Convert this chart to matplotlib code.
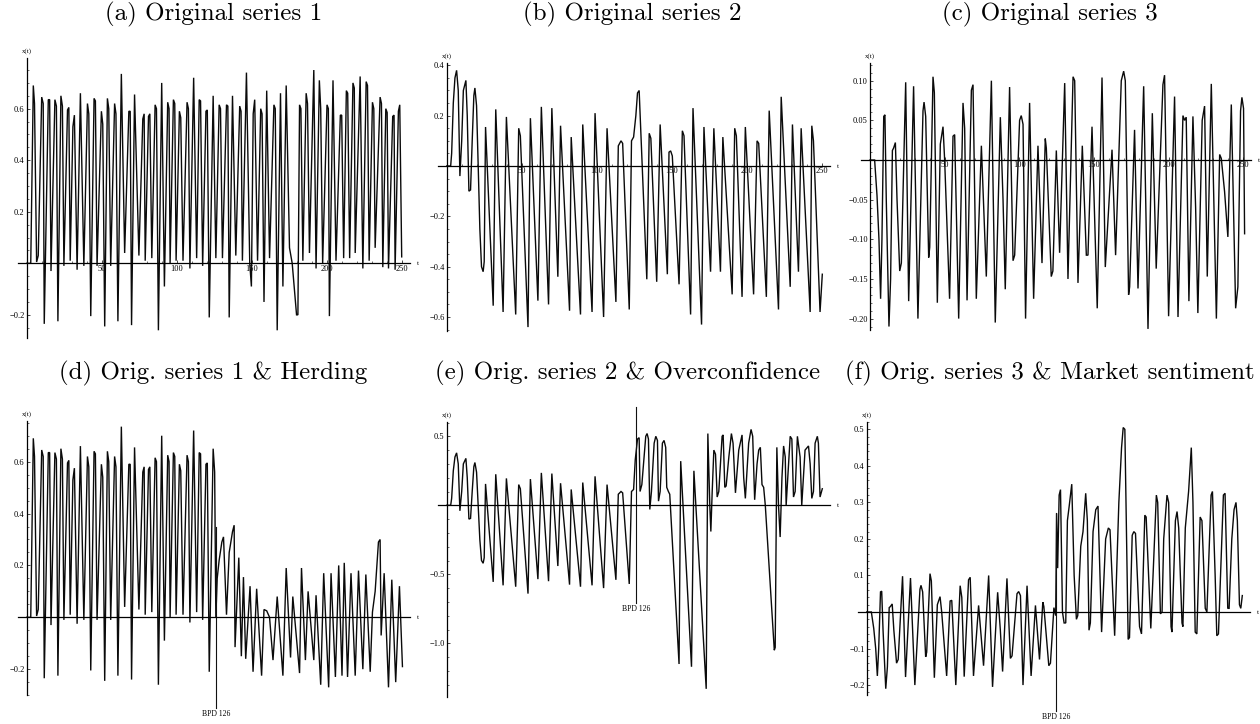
import matplotlib
matplotlib.use('Agg')
import matplotlib.pyplot as plt
from matplotlib.ticker import MultipleLocator, FixedLocator, NullLocator

# ---- data: turning points (t, x) ----
series1 = [(0, 0), (2.7, 0), (4.4, 0.69), (5.2, 0.62), (6.6, 0.005), (7.7, 0.03),
           (10.0, 0.645), (11.0, 0.62), (11.7, -0.235), (14.4, 0.635), (15.3, 0.635),
           (16.2, -0.03), (18.8, 0.635), (19.8, 0.61), (20.8, -0.225), (22.8, 0.65),
           (23.8, 0.61), (24.8, -0.01), (27.2, 0.595), (28.1, 0.605), (29.0, 0.01),
           (30.8, 0.53), (31.8, 0.575), (33.6, -0.025), (35.8, 0.66), (38.1, -0.01),
           (40.5, 0.62), (41.4, 0.58), (42.7, -0.205), (44.9, 0.64), (45.8, 0.63),
           (46.9, -0.01), (49.8, 0.59), (50.7, 0.54), (52.0, -0.245), (53.8, 0.64),
           (54.7, 0.6), (56.0, -0.01), (58.6, 0.62), (59.5, 0.58), (60.8, -0.225),
           (63.1, 0.735), (65.3, 0.04), (68.1, 0.59), (69.0, 0.59), (69.9, -0.24),
           (71.9, 0.655), (74.8, 0.03), (77.4, 0.56), (78.3, 0.58), (79.0, 0.01),
           (81.2, 0.57), (82.1, 0.58), (83.4, 0.02), (85.6, 0.615), (86.5, 0.6),
           (87.8, -0.26), (90.0, 0.70), (91.8, -0.09), (94.0, 0.625), (94.9, 0.6),
           (95.6, 0.0), (97.8, 0.635), (98.7, 0.62), (99.6, 0.01), (101.8, 0.59),
           (102.7, 0.565), (104.2, 0.01), (106.9, 0.625), (107.8, 0.6), (108.8, -0.02),
           (111.3, 0.72), (113.3, 0.02), (115.0, 0.635), (115.9, 0.63), (117.3, -0.01),
           (119.5, 0.59), (120.4, 0.595), (121.7, -0.21), (124.3, 0.65), (126.1, 0.02),
           (128.3, 0.615), (129.2, 0.6), (130.5, 0.02), (133.2, 0.615), (134.1, 0.61),
           (135.0, -0.21), (137.2, 0.65), (139.4, 0.03), (142.0, 0.61), (142.9, 0.59),
           (143.8, 0.01), (146.5, 0.74), (148.7, 0.0), (149.8, -0.09), (151.0, 0.58),
           (152.0, 0.635), (153.9, 0.01), (156.0, 0.6), (156.9, 0.58), (158.2, -0.15),
           (160.0, 0.67), (161.9, 0.02), (164.8, 0.615), (165.7, 0.6), (167.0, -0.26),
           (169.2, 0.66), (170.8, -0.09), (173.0, 0.69), (175.2, 0.06), (177.0, 0.0),
           (179.9, -0.2), (180.8, -0.2), (181.9, 0.615), (182.8, 0.6), (184.1, 0.01),
           (186.3, 0.66), (187.2, 0.62), (188.5, 0.04), (191.4, 0.75), (192.9, -0.02),
           (195.1, 0.71), (196.0, 0.6), (197.3, 0.0), (200.2, 0.615), (201.1, 0.6),
           (201.8, -0.205), (204.2, 0.71), (206.2, 0.01), (209.1, 0.575), (210.0, 0.575),
           (211.3, 0.02), (213.1, 0.67), (214.0, 0.66), (215.3, 0.02), (217.5, 0.70),
           (218.4, 0.68), (219.0, 0.04), (222.3, 0.725), (224.1, -0.02), (226.3, 0.705),
           (227.2, 0.69), (228.3, 0.01), (230.5, 0.625), (231.4, 0.6), (232.3, 0.06),
           (235.6, 0.645), (236.5, 0.62), (237.4, -0.015), (239.4, 0.60), (240.3, 0.585),
           (241.2, -0.02), (244.0, 0.57), (244.9, 0.575), (245.6, -0.025), (247.8, 0.59),
           (248.7, 0.615), (250.0, 0.025)]

series2 = [(0, 0), (2.65, 0), (3.3, 0.05), (4.4, 0.25), (5.5, 0.35), (6.6, 0.38),
           (7.7, 0.3), (8.8, -0.04), (10.0, 0.1), (11.1, 0.3), (12.8, 0.34), (13.7, 0.2),
           (14.8, -0.1), (15.9, -0.095), (17.0, 0.1), (18.1, 0.28), (18.8, 0.31),
           (19.9, 0.24), (21.0, 0.0), (22.1, -0.25), (23.2, -0.4), (24.3, -0.42),
           (25.0, -0.38), (25.9, 0.155), (31.0, -0.555), (32.7, 0.225), (37.6, -0.58),
           (39.8, 0.195), (46.0, -0.59), (48.0, 0.15), (49.1, 0.12), (54.2, -0.64),
           (55.8, 0.19), (60.8, -0.535), (63.1, 0.235), (67.9, -0.55), (70.1, 0.23),
           (74.1, -0.44), (75.9, 0.16), (81.9, -0.575), (83.0, 0.115), (89.2, -0.59),
           (90.7, 0.165), (96.9, -0.58), (98.9, 0.21), (104.6, -0.6), (106.9, 0.15),
           (112.8, -0.54), (114.4, 0.08), (116.2, 0.10), (117.3, 0.09), (121.7, -0.57),
           (123.2, 0.1), (124.6, 0.115), (126.1, 0.2), (127.2, 0.29), (128.3, 0.3),
           (133.4, -0.45), (135.0, 0.13), (136.1, 0.11), (140.0, -0.46), (142.3, 0.165),
           (147.1, -0.43), (148.2, 0.055), (149.3, 0.06), (150.4, 0.04), (154.9, -0.47),
           (157.1, 0.14), (158.2, 0.12), (162.6, -0.59), (164.2, 0.23), (169.9, -0.63),
           (171.5, 0.155), (175.9, -0.42), (178.1, 0.15), (182.5, -0.42), (184.1, 0.115),
           (190.3, -0.51), (192.0, 0.15), (193.1, 0.12), (196.9, -0.52), (199.1, 0.155),
           (204.6, -0.51), (206.9, 0.1), (208.0, 0.09), (213.1, -0.52), (215.0, 0.22),
           (221.2, -0.57), (223.0, 0.275), (229.0, -0.48), (230.5, 0.165), (234.5, -0.42),
           (236.3, 0.15), (242.3, -0.58), (243.4, 0.16), (244.5, 0.1), (248.9, -0.58),
           (250.4, -0.43)]

series3 = [(0, 0), (3.1, 0), (4.7, -0.045), (6.0, -0.1), (7.1, -0.175), (8.0, -0.1),
           (9.2, 0.055), (10.0, 0.057), (10.9, -0.05), (12.7, -0.21), (13.8, -0.15),
           (15.0, 0.012), (15.8, 0.015), (17.0, 0.022), (18.1, -0.05), (19.9, -0.14),
           (21.0, -0.13), (23.9, 0.098), (25.9, -0.178), (29.2, 0.093), (32.1, -0.2),
           (35.5, 0.062), (36.2, 0.073), (37.3, 0.055), (39.3, -0.123), (40.0, -0.11),
           (42.2, 0.105), (43.1, 0.085), (45.1, -0.18), (47.1, 0.02), (48.9, 0.042),
           (50.0, 0.0), (53.3, -0.175), (55.6, 0.03), (56.7, 0.032), (59.4, -0.2),
           (62.3, 0.072), (63.4, 0.04), (65.0, -0.177), (67.9, 0.088), (69.0, 0.095),
           (71.2, -0.175), (74.6, 0.018), (77.9, -0.147), (81.3, 0.1), (83.9, -0.205),
           (87.3, 0.054), (89.1, -0.05), (90.6, -0.163), (93.5, 0.092), (95.8, -0.127),
           (96.9, -0.12), (100.2, 0.05), (101.3, 0.056), (102.5, 0.045), (104.2, -0.2),
           (106.9, 0.072), (109.6, -0.175), (112.5, 0.018), (115.2, -0.13), (117.4, 0.027),
           (118.1, 0.015), (121.4, -0.147), (122.5, -0.14), (124.8, 0.012), (127.0, -0.117),
           (130.4, 0.097), (132.6, -0.15), (136.0, 0.105), (137.1, 0.1), (139.3, -0.155),
           (142.2, 0.018), (144.9, -0.12), (146.0, -0.12), (148.7, 0.042), (152.2, -0.187),
           (155.4, 0.104), (157.6, -0.135), (162.1, 0.013), (164.5, -0.12), (168.3, 0.1),
           (169.9, 0.112), (171.0, 0.1), (173.2, -0.17), (173.9, -0.16), (177.2, 0.038),
           (179.5, -0.162), (183.3, 0.093), (186.2, -0.213), (189.1, 0.059), (191.7, -0.137),
           (196.2, 0.095), (197.3, 0.107), (200.0, -0.197), (204.0, 0.08), (206.3, -0.198),
           (209.6, 0.056), (210.7, 0.05), (211.8, 0.054), (213.6, -0.178), (216.3, 0.055),
           (218.1, -0.06), (219.6, -0.193), (222.5, 0.05), (224.1, 0.068), (225.9, -0.147),
           (228.6, 0.096), (232.0, -0.2), (234.2, 0.007), (235.3, 0.002), (237.5, -0.04),
           (239.7, -0.097), (242.0, 0.07), (244.9, -0.187), (246.4, -0.16), (248.2, 0.062),
           (249.1, 0.079), (250.2, 0.065), (250.9, -0.093)]

# after the break point (t = 126)
herding_tail = [(125.3, 0.56), (126.1, 0.0), (127.0, 0.15), (128.3, 0.22), (130.1, 0.29),
                (131.2, 0.31), (133.2, 0.01), (135.0, 0.25), (137.2, 0.33), (138.3, 0.355),
                (138.9, -0.115), (141.4, 0.23), (143.1, -0.15), (144.5, 0.155), (146.0, -0.16),
                (148.9, 0.12), (150.9, -0.21), (153.3, 0.11), (156.6, -0.225), (158.2, 0.03),
                (160.0, 0.025), (161.9, 0.0), (164.2, -0.165), (167.0, 0.08), (170.8, -0.225),
                (173.0, 0.19), (175.9, -0.155), (177.4, 0.08), (181.9, -0.215), (183.2, 0.19),
                (185.8, -0.165), (187.6, 0.1), (191.4, -0.165), (192.9, 0.085), (196.0, -0.26),
                (198.0, 0.17), (201.3, -0.27), (202.9, 0.17), (205.8, -0.23), (208.0, 0.2),
                (210.2, -0.225), (211.7, 0.21), (213.9, -0.23), (216.2, 0.17), (219.0, -0.225),
                (221.2, 0.18), (224.1, -0.2), (226.1, 0.165), (229.0, -0.21), (230.5, 0.02),
                (232.3, 0.1), (234.5, 0.29), (235.6, 0.3), (236.3, -0.07), (238.3, 0.17),
                (241.2, -0.27), (243.4, 0.145), (246.0, -0.25), (248.5, 0.12), (250.5, -0.19)]

overconf_tail = [(125.7, 0.33), (127.2, 0.48), (128.3, 0.49), (128.9, 0.1), (130.1, 0.15),
                 (131.6, 0.35), (132.7, 0.5), (133.6, 0.52), (134.5, 0.48), (135.4, -0.03),
                 (136.5, 0.1), (138.3, 0.45), (139.4, 0.5), (140.5, 0.47), (141.2, 0.03),
                 (142.3, 0.1), (143.8, 0.45), (144.9, 0.47), (146.0, 0.42), (146.7, 0.13),
                 (147.8, 0.1), (148.7, 0.08), (154.9, -1.15), (156.0, 0.32), (163.2, -1.17),
                 (164.8, 0.25), (173.0, -1.33), (174.1, 0.52), (175.4, 0.0), (176.1, -0.19),
                 (177.0, 0.1), (178.1, 0.4), (179.2, 0.37), (180.3, 0.06), (181.4, 0.1),
                 (182.5, 0.3), (183.6, 0.5), (184.3, 0.51), (185.4, 0.13), (186.3, 0.14),
                 (188.1, 0.35), (189.8, 0.52), (190.9, 0.45), (192.5, 0.09), (194.7, 0.4),
                 (196.9, 0.51), (198.0, 0.2), (199.1, 0.05), (201.3, 0.45), (202.9, 0.55),
                 (204.0, 0.5), (205.3, 0.04), (206.9, 0.3), (208.0, 0.4), (209.1, 0.42),
                 (210.2, 0.15), (211.3, 0.13), (212.4, 0.0), (218.4, -1.05), (219.0, -1.03),
                 (220.1, 0.42), (221.2, 0.0), (222.3, -0.23), (223.5, 0.2), (224.6, 0.43),
                 (225.7, 0.35), (226.3, 0.0), (227.4, 0.2), (229.0, 0.5), (230.1, 0.48),
                 (231.2, 0.06), (232.3, 0.1), (233.8, 0.5), (235.6, 0.35), (236.7, 0.0),
                 (237.8, 0.2), (238.9, 0.4), (241.2, 0.43), (242.3, 0.3), (243.4, 0.05),
                 (244.5, 0.1), (245.6, 0.45), (247.1, 0.5), (247.8, 0.45), (248.9, 0.06),
                 (250.4, 0.12)]

sentiment_tail = [(126.0, -0.01), (126.6, 0.27), (127.3, 0.12), (128.3, 0.32), (129.2, 0.335),
                  (130.5, 0.0), (131.6, -0.03), (132.7, -0.03), (133.8, 0.25), (135.0, 0.29),
                  (136.7, 0.35), (138.3, 0.1), (139.8, -0.02), (140.7, -0.01), (142.7, 0.18),
                  (144.2, 0.22), (146.0, 0.325), (147.1, 0.25), (148.2, -0.05), (149.1, -0.03),
                  (150.9, 0.22), (152.7, 0.28), (154.2, 0.29), (156.6, -0.055), (159.3, 0.2),
                  (161.1, 0.23), (162.2, 0.225), (165.3, -0.065), (168.1, 0.3), (169.9, 0.45),
                  (171.0, 0.505), (172.1, 0.5), (174.3, -0.075), (175.2, -0.07), (177.0, 0.21),
                  (178.1, 0.22), (179.2, 0.215), (181.9, -0.04), (183.2, -0.06), (185.4, 0.265),
                  (186.3, 0.26), (189.4, -0.045), (190.9, 0.1), (193.1, 0.32), (194.0, 0.3),
                  (195.8, -0.005), (196.9, 0.0), (198.0, 0.2), (200.2, 0.32), (201.3, 0.3),
                  (202.9, -0.04), (203.5, -0.055), (205.8, 0.25), (206.9, 0.275), (208.0, 0.23),
                  (210.2, -0.03), (210.8, -0.04), (212.4, 0.23), (214.6, 0.33), (216.4, 0.45),
                  (217.5, 0.3), (219.0, -0.055), (220.1, -0.06), (222.3, 0.26), (223.5, 0.25),
                  (225.7, 0.01), (226.8, 0.0), (229.6, 0.32), (230.5, 0.33), (232.3, 0.1),
                  (233.4, -0.065), (234.5, -0.06), (237.8, 0.32), (238.9, 0.325), (240.7, 0.01),
                  (241.6, 0.01), (243.4, 0.2), (244.9, 0.28), (246.2, 0.3), (247.1, 0.25),
                  (248.5, 0.02), (249.4, 0.01), (250.4, 0.045)]

break_t = 126
titles = ['(a) Original series 1', '(b) Original series 2', '(c) Original series 3',
          '(d) Orig. series 1 & Herding', '(e) Orig. series 2 & Overconfidence',
          '(f) Orig. series 3 & Market sentiment']
x_ticks = [50, 100, 150, 200, 250]


def join(base, tail, cut):
    return [p for p in base if p[0] < cut] + tail


panels = [
    dict(data=series1, ylim=(-0.29, 0.795), px=(26.7, 263.3, 257.7), ppt=1.5,
         yt=[-0.2, 0.2, 0.4, 0.6], fmt='{:.1f}', ymin=0.05, xlab=True),
    dict(data=series2, ylim=(-0.655, 0.41), px=(446.7, 166.0, 251.7), ppt=1.5,
         yt=[-0.6, -0.4, -0.2, 0.2, 0.4], fmt='{:.1f}', ymin=0.05, xlab=True),
    dict(data=series3, ylim=(-0.215, 0.122), px=(870.0, 160.0, 793.0), ppt=1.493,
         yt=[-0.20, -0.15, -0.10, -0.05, 0.05, 0.10], fmt='{:.2f}', ymin=0.01, xlab=True),
    dict(data=join(series1, herding_tail, 125), ylim=(-0.3, 0.758), px=(26.7, 617.3, 259.4),
         ppt=1.5, yt=[-0.2, 0.2, 0.4, 0.6], fmt='{:.1f}', ymin=0.05, xlab=False, bpd=0.35),
    dict(data=join(series2, overconf_tail, 125), ylim=(-1.39, 0.606), px=(446.7, 505.3, 138.0),
         ppt=1.5, yt=[-1.0, -0.5, 0.5], fmt='{:.1f}', ymin=0.1, xlab=False, bpd=0.71),
    dict(data=join(series3, sentiment_tail, 125.5), ylim=(-0.228, 0.52), px=(866.7, 612.0, 365.3),
         ppt=1.5, yt=[-0.2, -0.1, 0.1, 0.2, 0.3, 0.4, 0.5], fmt='{:.1f}', ymin=0.02, xlab=False,
         bpd=0.27),
]
title_pos = [(214, 14), (632, 14), (1050, 14), (213, 373), (628, 373), (1050, 373)]

W, H = 1260, 724
fig = plt.figure(figsize=(W / 100, H / 100), dpi=100)
tick_font = dict(family='Liberation Serif', size=6)
xlim = (-5.8, 255.5)

for p, title, (tx, ty) in zip(panels, titles, title_pos):
    x0, y0, ppu = p['px']
    ylim = p['ylim']
    L = x0 + xlim[0] * p['ppt']
    R = x0 + xlim[1] * p['ppt']
    T = y0 - ylim[1] * ppu
    B = y0 - ylim[0] * ppu
    ax = fig.add_axes([L / W, 1 - B / H, (R - L) / W, (B - T) / H])
    ax.set_xlim(xlim)
    ax.set_ylim(ylim)
    ax.patch.set_alpha(0)

    t = [q[0] for q in p['data']]
    x = [q[1] for q in p['data']]
    ax.plot(t, x, color='#0a0a0a', lw=1.0, solid_joinstyle='miter', clip_on=False)

    for s in ['top', 'right']:
        ax.spines[s].set_visible(False)
    ax.spines['left'].set_position(('data', 0))
    ax.spines['bottom'].set_position(('data', 0))
    for s in ['left', 'bottom']:
        ax.spines[s].set_linewidth(0.9)
        ax.spines[s].set_zorder(3)

    ax.set_yticks(p['yt'])
    ax.set_yticklabels([p['fmt'].format(v).replace('-', '\u2212') for v in p['yt']], **tick_font)
    ax.yaxis.set_minor_locator(MultipleLocator(p['ymin']))
    ax.tick_params(axis='y', which='major', direction='in', length=2.5, width=0.5, pad=1.5)
    ax.tick_params(axis='y', which='minor', direction='in', length=1.3, width=0.4)

    if p['xlab']:
        ax.xaxis.set_major_locator(FixedLocator(x_ticks))
        ax.set_xticklabels([str(v) for v in x_ticks], **tick_font)
        ax.xaxis.set_minor_locator(MultipleLocator(10))
        ax.tick_params(axis='x', which='major', direction='in', length=2.5, width=0.5, pad=1.0)
        ax.tick_params(axis='x', which='minor', direction='in', length=1.3, width=0.4)
    else:
        ax.xaxis.set_major_locator(NullLocator())
        ax.xaxis.set_minor_locator(NullLocator())

    # axis names, Mathematica style
    ax.annotate('x(t)', xy=(0, ylim[1]), xytext=(0, 3), textcoords='offset points',
                ha='center', va='bottom', fontsize=5, family='Liberation Serif',
                annotation_clip=False)
    ax.annotate('t', xy=(xlim[1], 0), xytext=(5, 0), textcoords='offset points',
                ha='left', va='center', fontsize=5, family='Liberation Serif',
                annotation_clip=False)

    if 'bpd' in p:
        c = p['bpd']
        ax.plot([break_t, break_t], [-c, c], color='#111111', lw=0.8, clip_on=False)
        ax.annotate('BPD %d' % break_t, xy=(break_t, -c), xytext=(0, -1.5),
                    textcoords='offset points', ha='center', va='top', fontsize=5.5,
                    family='Liberation Serif', annotation_clip=False)

    fig.text(tx / W, 1 - ty / H, title, ha='center', va='center', fontsize=18, family='cmr10')

fig.savefig('out.png', dpi=100)
